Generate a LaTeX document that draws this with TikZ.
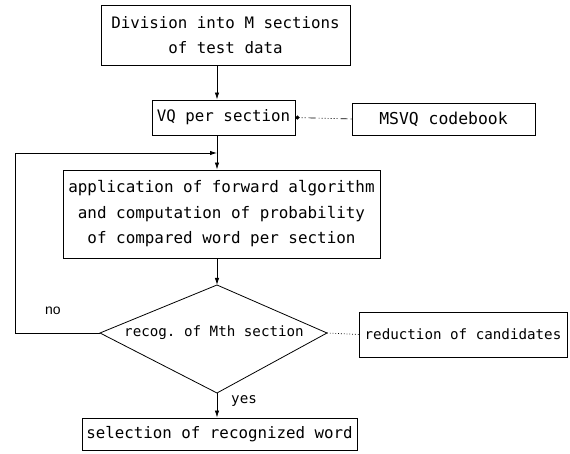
\documentclass[tikz,border=0pt]{standalone}
\usepackage{fontspec}
\setmonofont{DejaVu Sans Mono}
\newfontfamily\labelfont{Liberation Sans}
\usetikzlibrary{arrows.meta}
\tikzset{
  flowbox/.style={draw, line width=0.8pt, rectangle, inner sep=0pt, align=center},
  bigtext/.style={font=\ttfamily\fontsize{15.8}{24.5}\selectfont},
  smalltext/.style={font=\ttfamily\fontsize{14.2}{18}\selectfont},
  flowline/.style={line width=0.8pt},
  flowarrow/.style={line width=0.8pt, -{Latex[length=7pt,width=4.4pt]}},
  dotline/.style={line width=0.7pt, dash pattern=on 0.8pt off 2pt},
}
\begin{document}
\begin{tikzpicture}[x=1pt,y=1pt]
\useasboundingbox (0,0) rectangle (570,454);
\coordinate (spine) at (217,0);

% process boxes
\node[flowbox, bigtext, minimum width=249pt, minimum height=60pt] (divide) at (225.5,419)
  {Division into M sections\\of test data};
\node[flowbox, bigtext, minimum width=143pt, minimum height=35pt] (vq) at (223.5,336.5)
  {VQ per section};
\node[flowbox, bigtext, font=\ttfamily\fontsize{16.4}{20}\selectfont, minimum width=183pt, minimum height=32pt] (codebook) at (443.5,335)
  {MSVQ codebook};
\node[flowbox, bigtext, font=\ttfamily\fontsize{15.9}{25.5}\selectfont, minimum width=317pt, minimum height=88pt] (forward) at (221.5,240)
  {application of forward algorithm\\and computation of probability\\of compared word per section};

% decision
\coordinate (dtop) at (217,169);
\coordinate (dright) at (327,121);
\coordinate (dbottom) at (217,61);
\coordinate (dleft) at (100,121);
\draw[flowline, line join=miter] (dtop) -- (dright) -- (dbottom) -- (dleft) -- cycle;
\node[smalltext] (dtext) at (214,121) {recog. of Mth section};

\node[flowbox, smalltext, minimum width=208pt, minimum height=45pt] (reduce) at (463,119.5)
  {reduction of candidates};
\node[flowbox, bigtext, minimum width=275pt, minimum height=32pt] (select) at (219.5,20)
  {selection of recognized word};

% connectors along the main column
\draw[flowarrow] (divide.south -| spine) -- (vq.north -| spine);
\draw[flowarrow] (vq.south -| spine) -- (forward.north -| spine);
\draw[flowarrow] (forward.south -| spine) -- (dtop);
\draw[flowarrow] (dbottom) -- (select.north -| spine);

% loop back for the next section
\coordinate (loopbl) at (15,121);
\coordinate (looptl) at (15,301);
\coordinate (loopin) at (217,301);
\draw[flowline] (dleft) -- (loopbl) -- (looptl);
\draw[flowarrow] (looptl) -- (loopin);

% side links
\draw[line width=0.7pt, dash pattern=on 1pt off 3pt on 7pt off 3pt on 1pt off 2pt on 1pt off 2pt on 1pt off 2pt on 1pt off 2pt on 1pt off 2pt on 1pt off 2pt,
      -{Circle[length=4pt]}] (codebook.west) -- (vq.east);
\draw[dotline] (dright) -- (reduce.west);

% branch labels
\node[font=\labelfont\fontsize{14}{16}\selectfont] (nolabel) at (53,143) {no};
\node[smalltext, anchor=west, inner sep=0pt] (yeslabel) at (231,53) {yes};
\end{tikzpicture}
\end{document}
